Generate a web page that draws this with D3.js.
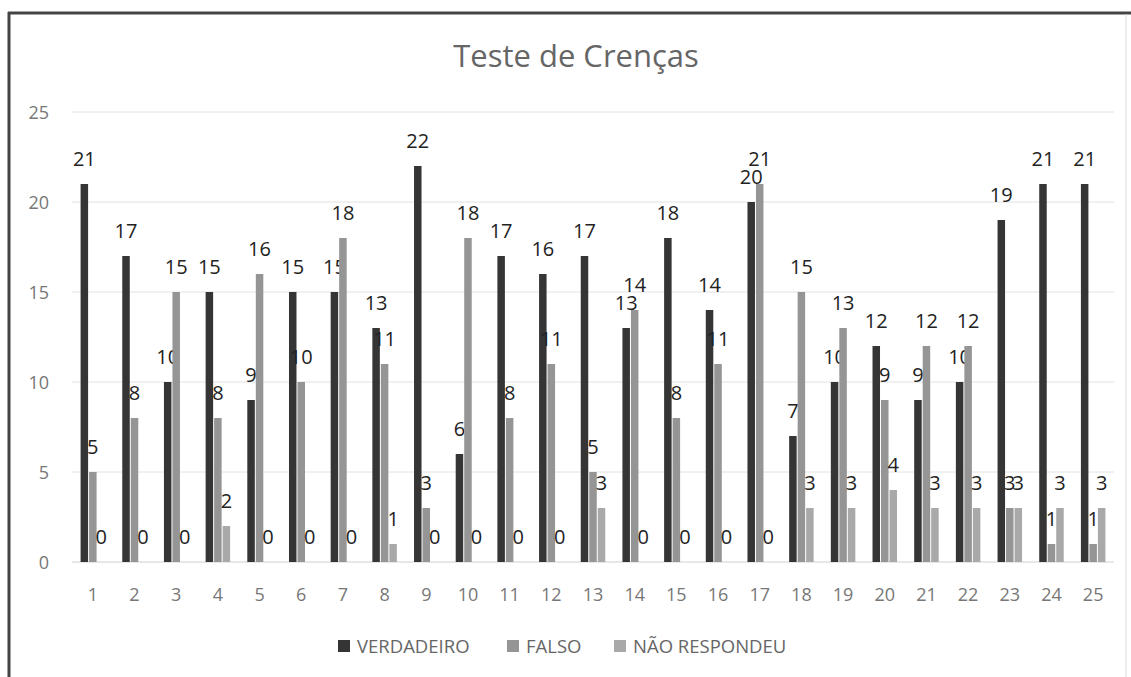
<!DOCTYPE html>
<meta charset="utf-8">
<style>
body{margin:0;background:#fff;}
svg text{font-family:"Open Sans","DejaVu Sans",sans-serif;}
</style>
<svg id="chart" width="1131" height="677"></svg>
<script src="https://d3js.org/d3.v7.min.js"></script>
<script>
// data
const categories = d3.range(1, 26).map(String)
const seriesNames = ['VERDADEIRO', 'FALSO', 'NÃO RESPONDEU']
const verdadeiro = [21,17,10,15,9,15,15,13,22,6,17,16,17,13,18,14,20,7,10,12,9,10,19,21,21]
const falso      = [5,8,15,8,16,10,18,11,3,18,8,11,5,14,8,11,21,15,13,9,12,12,3,1,1]
const naoResp    = [0,0,0,2,0,0,0,1,0,0,0,0,3,0,0,0,0,3,3,4,3,3,3,3,3]
const yTicks = [0,5,10,15,20,25]

const seriesValues = [verdadeiro, falso, naoResp]
const colors = ['#353535', '#959595', '#a9a9a9']

const svg = d3.select('#chart')

// frame: dark left/top edges, faint right edge
svg.append('line').attr('x1',9).attr('y1',12).attr('x2',9).attr('y2',677)
  .attr('stroke','#444').attr('stroke-width',3)
svg.append('line').attr('x1',8).attr('y1',13).attr('x2',1131).attr('y2',13)
  .attr('stroke','#444').attr('stroke-width',3)
svg.append('line').attr('x1',1126).attr('y1',14).attr('x2',1126).attr('y2',677)
  .attr('stroke','#ddd').attr('stroke-width',1)

const x = d3.scaleBand().domain(categories).range([72, 1114]).paddingInner(0).paddingOuter(0)
const y = d3.scaleLinear().domain([0, 25]).range([562, 112])
const barW = 7.5, gap = 1
const groupW = 3*barW + 2*gap

// title
svg.append('text').attr('x', 576).attr('y', 67).attr('text-anchor','middle')
  .attr('fill','#666').style('font-size','31px').text('Teste de Crenças')

// gridlines + y labels
svg.append('g').selectAll('line').data(yTicks).join('line')
  .attr('x1', 72).attr('x2', 1114)
  .attr('y1', d => y(d)).attr('y2', d => y(d))
  .attr('stroke', d => d === 0 ? '#d0d0d0' : '#e2e2e2').attr('stroke-width', 1)
svg.append('g').selectAll('text').data(yTicks).join('text')
  .attr('x', 49).attr('y', d => y(d) + 7).attr('text-anchor','end')
  .attr('fill','#777').style('font-size','18px').text(d => d)

// x labels
svg.append('g').selectAll('text').data(categories).join('text')
  .attr('x', d => x(d) + x.bandwidth()/2).attr('y', 601).attr('text-anchor','middle')
  .attr('fill','#777').style('font-size','18px').text(d => d)

// bars and value labels
seriesNames.forEach((name, si) => {
  const vals = seriesValues[si]
  const offset = d => x(d) + x.bandwidth()/2 - groupW/2 + si*(barW+gap)
  const g = svg.append('g')
  g.selectAll('rect').data(categories).join('rect')
    .attr('x', d => offset(d)).attr('width', barW)
    .attr('y', (d, i) => y(vals[i])).attr('height', (d, i) => y(0) - y(vals[i]))
    .attr('fill', colors[si])
  g.selectAll('text').data(categories).join('text')
    .attr('x', d => offset(d) + barW/2).attr('y', (d, i) => y(vals[i]) - 18)
    .attr('text-anchor','middle').attr('fill','#222').style('font-size','20px')
    .text((d, i) => vals[i])
})

// legend
const legendX = [338, 507, 614]
const lg = svg.append('g').selectAll('g').data(seriesNames).join('g')
  .attr('transform', (d, i) => `translate(${legendX[i]},640)`)
lg.append('rect').attr('width', 12).attr('height', 12)
  .attr('fill', (d, i) => colors[i])
lg.append('text').attr('x', 19).attr('y', 13).attr('fill','#666')
  .style('font-size','18.5px').text(d => d)
</script>
